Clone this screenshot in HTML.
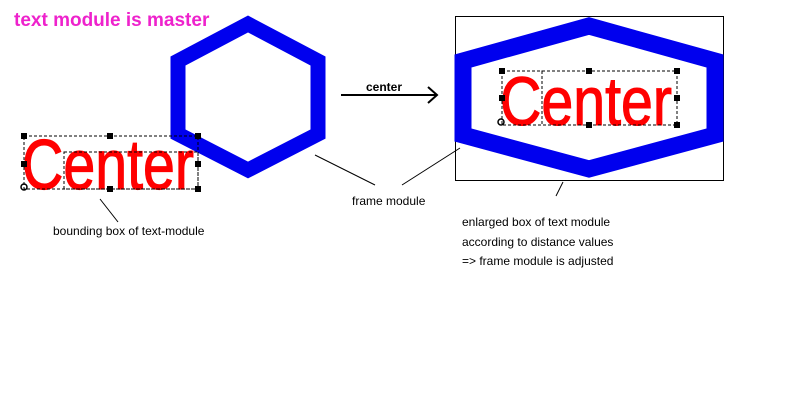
<!DOCTYPE html>
<html><head><style>body{margin:0;background:#fff}</style></head><body>
<svg width="800" height="400" xmlns="http://www.w3.org/2000/svg" font-family="Liberation Sans, Arial, sans-serif">
<rect width="800" height="400" fill="#fff"/>
<text x="14" y="26" font-size="19" font-weight="bold" fill="#ee22cc">text module is master</text>
<polygon points="248,24 318,61 318,134 248,170 178,134 178,61" fill="none" stroke="#0000ee" stroke-width="15"/>
<g transform="translate(22,189) scale(1,1.13)"><text x="0" y="0" font-size="62" fill="#ff0000" stroke="#ff0000" stroke-width="1" textLength="172" lengthAdjust="spacingAndGlyphs">Center</text></g>
<rect x="24" y="136" width="174" height="53" fill="none" stroke="#000" stroke-dasharray="3,2"/>
<rect x="64" y="152" width="134" height="37" fill="none" stroke="#000" stroke-dasharray="3,2"/>
<g fill="#000"><rect x="21" y="133" width="6" height="6"/><rect x="107" y="133" width="6" height="6"/><rect x="195" y="133" width="6" height="6"/><rect x="21" y="161" width="6" height="6"/><rect x="195" y="161" width="6" height="6"/><rect x="107" y="186" width="6" height="6"/><rect x="195" y="186" width="6" height="6"/></g>
<circle cx="24" cy="187" r="3" fill="none" stroke="#000" stroke-width="1.5"/>
<line x1="100" y1="199" x2="118" y2="222" stroke="#000"/>
<text x="53" y="235" font-size="12">bounding box of text-module</text>
<text x="366" y="91" font-size="12" font-weight="bold">center</text>
<line x1="341" y1="95" x2="436" y2="95" stroke="#000" stroke-width="2"/>
<path d="M428,87 L437,95 L428,103" fill="none" stroke="#000" stroke-width="2"/>
<line x1="315" y1="155" x2="375" y2="185" stroke="#000"/>
<line x1="460" y1="148" x2="402" y2="185" stroke="#000"/>
<text x="352" y="205" font-size="12">frame module</text>
<rect x="455.5" y="16.5" width="268" height="164" fill="none" stroke="#000"/>
<polygon points="589,26 715,61 715,135 589,169 463,135 463,61" fill="none" stroke="#0000ee" stroke-width="17"/>
<g transform="translate(500,125) scale(1,1.1)"><text x="0" y="0" font-size="62" fill="#ff0000" stroke="#ff0000" stroke-width="1" textLength="172" lengthAdjust="spacingAndGlyphs">Center</text></g>
<rect x="502" y="71" width="175" height="54" fill="none" stroke="#000" stroke-dasharray="3,2"/>
<rect x="542" y="71" width="135" height="54" fill="none" stroke="#000" stroke-dasharray="3,2"/>
<g fill="#000"><rect x="499" y="68" width="6" height="6"/><rect x="586" y="68" width="6" height="6"/><rect x="674" y="68" width="6" height="6"/><rect x="499" y="95" width="6" height="6"/><rect x="674" y="95" width="6" height="6"/><rect x="586" y="122" width="6" height="6"/><rect x="674" y="122" width="6" height="6"/></g>
<circle cx="501" cy="122" r="3" fill="none" stroke="#000" stroke-width="1.5"/>
<line x1="563" y1="182" x2="556" y2="196" stroke="#000"/>
<text x="462" y="226" font-size="12">enlarged box of text module</text>
<text x="462" y="246" font-size="12">according to distance values</text>
<text x="462" y="265" font-size="12">=&gt; frame module is adjusted</text>
</svg>
</body></html>
